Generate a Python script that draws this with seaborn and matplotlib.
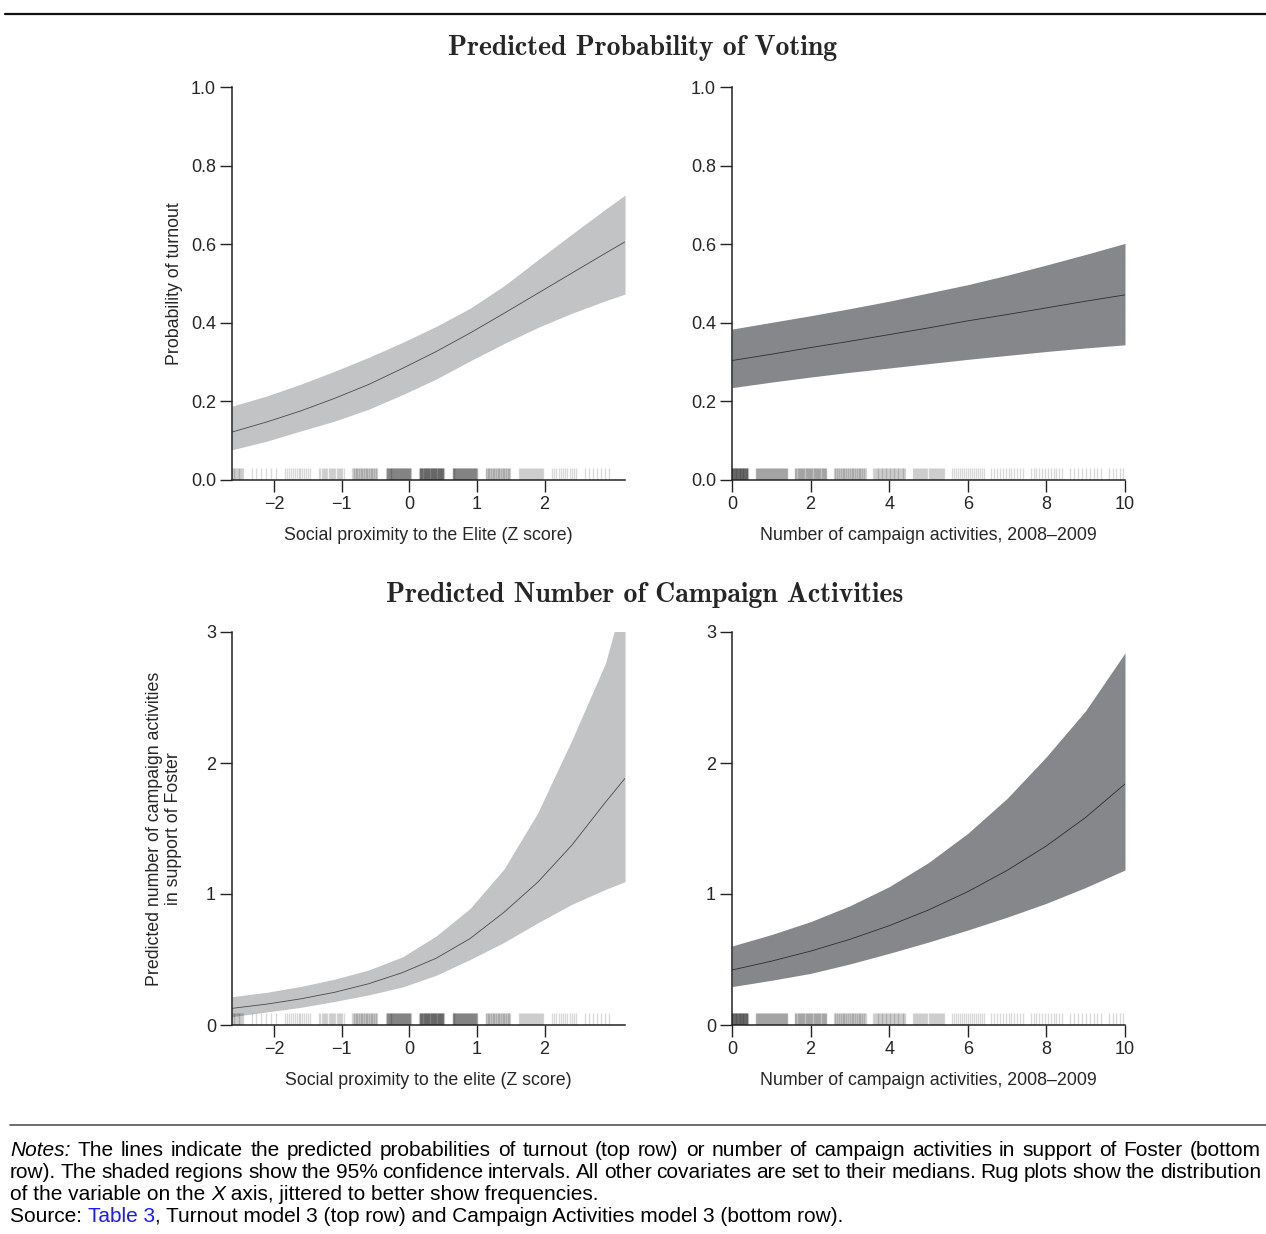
import numpy as np
import matplotlib
matplotlib.use("Agg")
import matplotlib.pyplot as plt
import seaborn as sns


# values
prox_x = [-2.62, -2.1, -1.6, -1.1, -0.6, -0.1, 0.4, 0.9, 1.4, 1.9, 2.4, 2.9, 3.19]
turnout_prox_fit = [0.122, 0.148, 0.176, 0.208, 0.243, 0.284, 0.327, 0.374, 0.424,
                    0.475, 0.526, 0.577, 0.606]
turnout_prox_hi = [0.188, 0.214, 0.244, 0.277, 0.312, 0.350, 0.391, 0.437, 0.494,
                   0.560, 0.625, 0.689, 0.725]
turnout_prox_lo = [0.077, 0.099, 0.125, 0.150, 0.180, 0.217, 0.257, 0.303, 0.347,
                   0.388, 0.424, 0.456, 0.473]

act_x = [0, 1, 2, 3, 4, 5, 6, 7, 8, 9, 10]
turnout_act_fit = [0.304, 0.320, 0.337, 0.353, 0.370, 0.387, 0.405, 0.421, 0.438, 0.455, 0.471]
turnout_act_hi = [0.384, 0.401, 0.418, 0.436, 0.455, 0.476, 0.497, 0.521, 0.547, 0.574, 0.602]
turnout_act_lo = [0.235, 0.249, 0.262, 0.274, 0.285, 0.296, 0.307, 0.317, 0.327, 0.336, 0.344]

camp_prox_fit = [0.127, 0.16, 0.20, 0.25, 0.315, 0.40, 0.51, 0.66, 0.86, 1.09, 1.37,
                 1.70, 1.883]
camp_prox_hi = [0.216, 0.25, 0.295, 0.35, 0.42, 0.52, 0.68, 0.89, 1.19, 1.62, 2.17,
                2.76, 3.3]
camp_prox_lo = [0.064, 0.10, 0.135, 0.18, 0.23, 0.29, 0.38, 0.50, 0.63, 0.78, 0.92,
                1.035, 1.094]

camp_act_fit = [0.42, 0.487, 0.564, 0.654, 0.758, 0.878, 1.018, 1.18, 1.367, 1.585, 1.84]
camp_act_hi = [0.603, 0.69, 0.789, 0.91, 1.056, 1.24, 1.463, 1.73, 2.048, 2.40, 2.84]
camp_act_lo = [0.293, 0.341, 0.394, 0.466, 0.547, 0.633, 0.725, 0.823, 0.929, 1.05, 1.183]

# rug: observed values and how many respondents sit on each
prox_values = [-2.64, -2.15, -1.65, -1.15, -0.66, -0.16, 0.33, 0.82, 1.31, 1.80, 2.29, 2.78]
prox_counts = [30, 6, 14, 22, 40, 75, 95, 75, 40, 25, 12, 7]
act_values = [0, 1, 2, 3, 4, 5, 6, 7, 8, 9, 10]
act_counts = [135, 64, 60, 50, 40, 31, 17, 12, 12, 9, 10]

W, H = 1266, 1234
LIGHT = "#c2c3c5"
DARK = "#86878b"


def jittered(values, counts, half):
    pos = []
    for v, n in zip(values, counts):
        pos.extend(v + np.linspace(-half, half, n))
    return np.array(pos)


def panel(left, top, x, fit, lo, hi, band, line, xlim, ylim, rug):
    ax = fig.add_axes([left / W, 1 - (top + 393) / H, 393 / W, 393 / H])
    ax.fill_between(x, lo, hi, color=band, lw=0)
    sns.lineplot(x=x, y=fit, ax=ax, color=line, lw=0.6)
    sns.rugplot(x=rug, ax=ax, height=0.03, color="k", alpha=0.15, lw=0.7)
    ax.set_xlim(*xlim)
    ax.set_ylim(*ylim)
    sns.despine(ax=ax)
    for s in ax.spines.values():
        s.set_linewidth(1.1)
        s.set_color("#222222")
    ax.tick_params(direction="out", length=8.5, width=1.0, color="#222222",
                   labelsize=13, pad=3)
    return ax


sns.set_style("ticks")
plt.rcParams["font.family"] = ["Liberation Sans", "DejaVu Sans"]

fig = plt.figure(figsize=(W / 100, H / 100), dpi=100)

prox_rug = jittered(prox_values, prox_counts, 0.18)
act_rug = jittered(act_values, act_counts, 0.4)

ax1 = panel(232, 87, prox_x, turnout_prox_fit, turnout_prox_lo, turnout_prox_hi,
            LIGHT, "#4a4a4a", (-2.62, 3.19), (0, 1), prox_rug)
ax2 = panel(732, 87, act_x, turnout_act_fit, turnout_act_lo, turnout_act_hi,
            DARK, "#2e2e2e", (0, 10), (0, 1), act_rug)
ax3 = panel(232, 632, prox_x, camp_prox_fit, camp_prox_lo, camp_prox_hi,
            LIGHT, "#4a4a4a", (-2.62, 3.19), (0, 3), prox_rug)
ax4 = panel(732, 632, act_x, camp_act_fit, camp_act_lo, camp_act_hi,
            DARK, "#2e2e2e", (0, 10), (0, 3), act_rug)

for ax in (ax1, ax3):
    ax.set_xticks([-2, -1, 0, 1, 2])
for ax in (ax2, ax4):
    ax.set_xticks([0, 2, 4, 6, 8, 10])
for ax in (ax1, ax2):
    ax.set_yticks([0, 0.2, 0.4, 0.6, 0.8, 1.0])
    ax.set_yticklabels(["0.0", "0.2", "0.4", "0.6", "0.8", "1.0"])
for ax in (ax3, ax4):
    ax.set_yticks([0, 1, 2, 3])

ax1.set_xlabel("Social proximity to the Elite (Z score)", fontsize=12.8)
ax2.set_xlabel("Number of campaign activities, 2008\u20132009", fontsize=12.8)
ax3.set_xlabel("Social proximity to the elite (Z score)", fontsize=12.8)
ax4.set_xlabel("Number of campaign activities, 2008\u20132009", fontsize=12.8)
for ax in (ax1, ax2, ax3, ax4):
    ax.xaxis.set_label_coords(0.5, -0.12)
ax1.set_ylabel("Probability of turnout", fontsize=12.8)
ax1.yaxis.set_label_coords(-0.125, 0.5)
ax3.set_ylabel("Predicted number of campaign activities\nin support of Foster",
               fontsize=12.8, linespacing=1.15)
ax3.yaxis.set_label_coords(-0.128, 0.5)

fig.text(643 / W, 1 - 48 / H, "Predicted Probability of Voting",
         family="cmb10", fontsize=20, ha="center", va="center")
fig.text(645 / W, 1 - 595 / H, "Predicted Number of Campaign Activities",
         family="cmb10", fontsize=20, ha="center", va="center")

# rules above the panels and above the notes
fig.add_artist(plt.Line2D([5 / W, 1], [1 - 14 / H] * 2, color="#111111", lw=1.6))
fig.add_artist(plt.Line2D([10 / W, 1], [1 - 1125 / H] * 2, color="#555555", lw=1.2))

NOTE_SIZE = 15
renderer = fig.canvas.get_renderer()


def justified(tokens, ypx, right_px):
    ts = [fig.text(0, 1 - ypx / H, w, fontsize=NOTE_SIZE, style=s, color=c,
                   ha="left", va="baseline") for w, s, c in tokens]
    widths = [t.get_window_extent(renderer).width for t in ts]
    gap = (right_px - 10 - sum(widths)) / (len(ts) - 1)
    xpx = 10
    for t, w in zip(ts, widths):
        t.set_x(xpx / W)
        xpx += w + gap


def ragged(runs, ypx):
    xpx = 10
    for txt, s, c in runs:
        t = fig.text(xpx / W, 1 - ypx / H, txt, fontsize=NOTE_SIZE, style=s, color=c,
                     ha="left", va="baseline")
        xpx = t.get_window_extent(renderer).x1


line1 = ("The lines indicate the predicted probabilities of turnout (top row) or number of "
         "campaign activities in support of Foster (bottom")
line2 = ("row). The shaded regions show the 95% confidence intervals. All other covariates "
         "are set to their medians. Rug plots show the distribution")
justified([("Notes:", "italic", "black")] + [(w, "normal", "black") for w in line1.split()],
          1155.5, 1261)
justified([(w, "normal", "black") for w in line2.split()], 1177.8, 1261)
ragged([("of the variable on the ", "normal", "black"), ("X", "italic", "black"),
        (" axis, jittered to better show frequencies.", "normal", "black")], 1200.1)
ragged([("Source: ", "normal", "black"), ("Table 3", "normal", "#1a1aff"),
        (", Turnout model 3 (top row) and Campaign Activities model 3 (bottom row).",
         "normal", "black")], 1222.4)

fig.savefig("out.png", dpi=100)
